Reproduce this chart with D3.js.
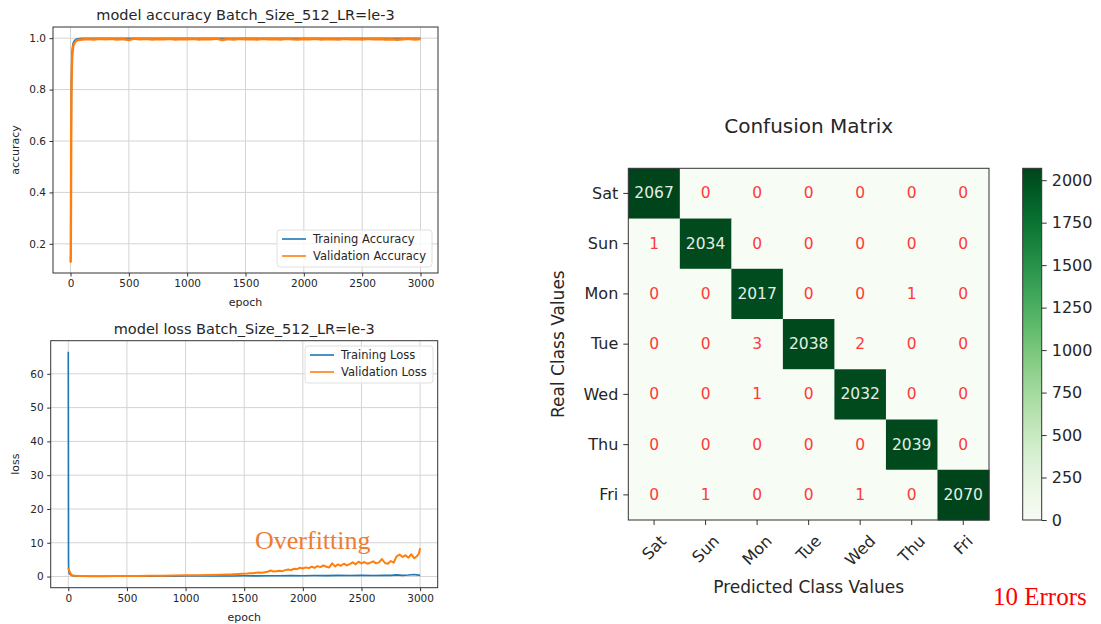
<!DOCTYPE html>
<html lang="en">
  <head>
    <meta charset="UTF-8">
    <title>Training curves and confusion matrix</title>
    <style>
      body { margin: 0; background: #fff; }
      svg text { font-family: "DejaVu Sans", sans-serif; }
    </style>
  </head>
  <body>
    <div id="chart-container"></div>
    <script src="https://d3js.org/d3.v7.min.js"></script>
    <script>
    const accEpochs = [0, 2, 4, 6, 8, 10, 12, 14, 17, 20, 25, 30, 40, 50, 60, 80, 100,
      150, 200, 250, 300, 350, 400, 450, 500, 550, 600, 650, 700, 750, 800, 850, 900, 950, 1000,
      1050, 1100, 1150, 1200, 1250, 1300, 1350, 1400, 1450, 1500, 1550, 1600, 1650, 1700, 1750,
      1800, 1850, 1900, 1950, 2000, 2050, 2100, 2150, 2200, 2250, 2300, 2350, 2400, 2450, 2500,
      2550, 2600, 2650, 2700, 2750, 2800, 2850, 2900, 2950, 3000];
    const trainAcc = [0.15, 0.14, 0.30, 0.60, 0.80, 0.88, 0.92, 0.95, 0.965, 0.975, 0.983, 0.988, 0.993, 0.996, 0.998, 0.999, 1.0,
      1.0, 1.0, 1.0, 1.0, 1.0, 1.0, 1.0, 1.0, 1.0, 1.0, 1.0, 1.0, 1.0, 1.0, 1.0, 1.0, 1.0, 1.0,
      1.0, 1.0, 1.0, 1.0, 1.0, 1.0, 1.0, 1.0, 1.0, 1.0, 1.0, 1.0, 1.0, 1.0, 1.0,
      1.0, 1.0, 1.0, 1.0, 1.0, 1.0, 1.0, 1.0, 1.0, 1.0, 1.0, 1.0, 1.0, 1.0, 1.0,
      1.0, 1.0, 1.0, 1.0, 1.0, 1.0, 1.0, 1.0, 1.0, 1.0];
    const valAcc = [0.14, 0.13, 0.35, 0.62, 0.78, 0.85, 0.88, 0.92, 0.94, 0.955, 0.97, 0.978, 0.985, 0.99, 0.993, 0.994, 0.995,
      0.997, 0.995, 0.998, 0.996, 0.998, 0.995, 0.997, 0.993, 0.998, 0.996, 0.998, 0.995, 0.997, 0.996, 0.998, 0.995, 0.997, 0.996,
      0.998, 0.995, 0.997, 0.996, 0.998, 0.993, 0.997, 0.995, 0.998, 0.996, 0.997, 0.995, 0.998, 0.996, 0.997,
      0.995, 0.998, 0.996, 0.995, 0.997, 0.996, 0.998, 0.995, 0.997, 0.996, 0.995, 0.998, 0.996, 0.997, 0.995,
      0.998, 0.996, 0.997, 0.995, 0.996, 0.994, 0.996, 0.998, 0.995, 0.997];

    // ---- loss history ----
    const trainLossEpochs = [0, 1, 2, 3, 5, 8, 12, 20, 30, 50, 100, 200, 300, 400, 500, 600, 700, 800,
      900, 1000, 1100, 1200, 1300, 1400, 1500, 1600, 1700, 1800, 1900, 2000, 2100, 2200, 2300,
      2400, 2500, 2600, 2700, 2750, 2800, 2850, 2900, 2950, 3000];
    const trainLoss = [66.5, 40, 5, 2.2, 1.5, 1.0, 0.7, 0.5, 0.35, 0.2, 0.12, 0.1, 0.1, 0.1, 0.12, 0.1, 0.12, 0.15,
      0.12, 0.15, 0.18, 0.15, 0.2, 0.18, 0.22, 0.2, 0.25, 0.22, 0.3, 0.25, 0.3, 0.28, 0.35,
      0.3, 0.35, 0.3, 0.4, 0.35, 0.5, 0.35, 0.45, 0.6, 0.35];
    const valLossEpochs = [0, 2, 5, 10, 20, 30, 50, 100, 200, 300, 400, 500, 600, 700, 800, 900, 1000,
      1100, 1200, 1300, 1400, 1425, 1450, 1475, 1500, 1525, 1550, 1575, 1600, 1625, 1650, 1675,
      1700, 1725, 1750, 1775, 1800, 1825, 1850, 1875, 1900, 1925, 1950, 1975, 2000, 2025, 2050,
      2075, 2100, 2125, 2150, 2175, 2200, 2225, 2250, 2275, 2300, 2325, 2350, 2375, 2400, 2425,
      2450, 2475, 2500, 2525, 2550, 2575, 2600, 2625, 2650, 2675, 2700, 2725, 2750, 2775, 2800,
      2825, 2850, 2875, 2900, 2925, 2950, 2975, 2990, 3000];
    const valLoss = [2.3, 2.4, 2.0, 1.6, 0.8, 0.4, 0.2, 0.15, 0.12, 0.12, 0.13, 0.15, 0.18, 0.2, 0.25, 0.3, 0.35,
      0.4, 0.45, 0.55, 0.65, 0.7, 0.75, 0.8, 0.85, 0.9, 1.0, 0.95, 1.1, 1.2, 1.15, 1.3,
      1.4, 1.8, 1.5, 1.6, 1.7, 1.6, 1.9, 2.1, 1.9, 2.3, 2.2, 2.6, 2.4, 2.7, 2.5,
      2.9, 2.6, 3.1, 2.8, 3.3, 2.9, 2.7, 3.9, 3.0, 3.6, 3.2, 3.8, 3.3, 3.7, 4.2,
      3.6, 4.4, 3.9, 4.3, 3.8, 4.1, 4.5, 3.9, 4.2, 5.2, 4.0, 3.8, 4.6, 4.1, 6.0,
      6.5, 5.8, 6.3, 5.6, 6.6, 5.4, 6.1, 6.8, 8.4];

    // ---- confusion matrix ----
    const classes = ["Sat", "Sun", "Mon", "Tue", "Wed", "Thu", "Fri"];
    const cmRows = [
      [2067, 0, 0, 0, 0, 0, 0],
      [1, 2034, 0, 0, 0, 0, 0],
      [0, 0, 2017, 0, 0, 1, 0],
      [0, 0, 3, 2038, 2, 0, 0],
      [0, 0, 1, 0, 2032, 0, 0],
      [0, 0, 0, 0, 0, 2039, 0],
      [0, 1, 0, 0, 1, 0, 2070]
    ];
    const colorbarTicks = [0, 250, 500, 750, 1000, 1250, 1500, 1750, 2000];
    const epochTicks = [0, 500, 1000, 1500, 2000, 2500, 3000];
    const accTicks = [0.2, 0.4, 0.6, 0.8, 1.0];
    const lossTicks = [0, 10, 20, 30, 40, 50, 60];

    const BLUE = "#1f77b4", ORANGE = "#ff7f0e", INK = "#262626";

    const svg = d3.select("#chart-container")
      .append("svg")
      .attr("width", 1101)
      .attr("height", 624);

    function zip(xs, ys) { return xs.map((x, i) => ({ x: x, y: ys[i] })); }

    // draws one matplotlib-looking line chart
    function lineChart(o) {
      const x = d3.scaleLinear().domain([-150, 3150]).range([o.left, o.right]);
      const y = d3.scaleLinear().domain(o.yDomain).range([o.bottom, o.top]);
      const g = svg.append("g");

      // grid
      g.append("g").selectAll("line").data(epochTicks).join("line")
        .attr("x1", d => x(d)).attr("x2", d => x(d))
        .attr("y1", o.top).attr("y2", o.bottom)
        .attr("stroke", "#d4d4d4").attr("stroke-width", 1);
      g.append("g").selectAll("line").data(o.yTicks).join("line")
        .attr("x1", o.left).attr("x2", o.right)
        .attr("y1", d => y(d)).attr("y2", d => y(d))
        .attr("stroke", "#d4d4d4").attr("stroke-width", 1);

      const line = d3.line().x(d => x(d.x)).y(d => y(d.y));
      o.series.forEach(s => {
        g.append("path")
          .datum(s.data)
          .attr("fill", "none")
          .attr("stroke", s.color)
          .attr("stroke-width", s.width || 1.6)
          .attr("stroke-linejoin", "round")
          .attr("d", line);
      });

      // frame
      g.append("rect")
        .attr("x", o.left).attr("y", o.top)
        .attr("width", o.right - o.left).attr("height", o.bottom - o.top)
        .attr("fill", "none").attr("stroke", "#333").attr("stroke-width", 1);

      const xAxis = g.append("g")
        .attr("transform", "translate(0," + o.bottom + ")")
        .call(d3.axisBottom(x).tickValues(epochTicks).tickFormat(d3.format("d")).tickSize(3.5).tickPadding(3.5));
      const yAxis = g.append("g")
        .attr("transform", "translate(" + o.left + ",0)")
        .call(d3.axisLeft(y).tickValues(o.yTicks).tickFormat(o.yFormat).tickSize(3.5).tickPadding(3.5));
      [xAxis, yAxis].forEach(a => {
        a.select(".domain").remove();
        a.selectAll("line").attr("stroke", "#333");
        a.selectAll("text").style("font-size", "10.5px").style("font-family", "DejaVu Sans").style("fill", INK);
      });

      // title + labels
      g.append("text")
        .attr("x", (o.left + o.right) / 2).attr("y", o.top - 7)
        .attr("text-anchor", "middle")
        .style("font-size", "14.5px").style("fill", INK)
        .text(o.title);
      g.append("text")
        .attr("x", (o.left + o.right) / 2).attr("y", o.bottom + 33)
        .attr("text-anchor", "middle")
        .style("font-size", "11px").style("fill", INK)
        .text("epoch");
      g.append("text")
        .attr("transform", "translate(" + 19 + "," + (o.top + o.bottom) / 2 + ") rotate(-90)")
        .attr("text-anchor", "middle")
        .style("font-size", "11px").style("fill", INK)
        .text(o.yLabel);

      // legend
      const lg = g.append("g").attr("transform", "translate(" + o.legend.x + "," + o.legend.y + ")");
      lg.append("rect")
        .attr("width", o.legend.w).attr("height", 37)
        .attr("rx", 3)
        .attr("fill", "white").attr("fill-opacity", 0.8)
        .attr("stroke", "#e0e0e0");
      o.series.forEach((s, i) => {
        lg.append("line")
          .attr("x1", 5).attr("x2", 29)
          .attr("y1", 9 + i * 17).attr("y2", 9 + i * 17)
          .attr("stroke", s.color).attr("stroke-width", 1.6);
        lg.append("text")
          .attr("x", 36).attr("y", 13 + i * 17)
          .style("font-size", "11.5px").style("fill", INK)
          .text(s.name);
      });
      return { x: x, y: y };
    }

    lineChart({
      left: 53, right: 438, top: 27, bottom: 273,
      yDomain: [0.0865, 1.0435], yTicks: accTicks, yFormat: d3.format(".1f"),
      title: "model accuracy Batch_Size_512_LR=le-3", yLabel: "accuracy",
      legend: { x: 277, y: 230, w: 155 },
      series: [
        { name: "Training Accuracy", color: BLUE, data: zip(accEpochs, trainAcc) },
        { name: "Validation Accuracy", color: ORANGE, width: 2.4, data: zip(accEpochs, valAcc) }
      ]
    });

    lineChart({
      left: 50.7, right: 437.7, top: 340.7, bottom: 587.7,
      yDomain: [-3.3, 69.8], yTicks: lossTicks, yFormat: d3.format("d"),
      title: "model loss Batch_Size_512_LR=le-3", yLabel: "loss",
      legend: { x: 305, y: 346, w: 128 },
      series: [
        { name: "Training Loss", color: BLUE, data: zip(trainLossEpochs, trainLoss) },
        { name: "Validation Loss", color: ORANGE, width: 2, data: zip(valLossEpochs, valLoss) }
      ]
    });

    svg.append("text")
      .attr("x", 255).attr("y", 549)
      .style("font-family", "Liberation Serif")
      .style("font-size", "26px")
      .style("fill", "#ed7d31")
      .text("Overfitting");

    // ---- confusion matrix heatmap ----
    const cm = { left: 628.3, right: 989, top: 168.3, bottom: 520 };
    const cx = d3.scaleBand().domain(classes).range([cm.left, cm.right]);
    const cy = d3.scaleBand().domain(classes).range([cm.top, cm.bottom]);
    const vmax = d3.max(cmRows.flat());
    const color = d3.scaleSequential(d3.interpolateGreens).domain([0, vmax]);

    const cells = [];
    cmRows.forEach((row, i) => row.forEach((v, j) => cells.push({ r: classes[i], c: classes[j], v: v })));

    const cmG = svg.append("g");
    cmG.selectAll("rect.cell").data(cells).join("rect")
      .attr("class", "cell")
      .attr("x", d => cx(d.c)).attr("y", d => cy(d.r))
      .attr("width", cx.bandwidth() + 0.5).attr("height", cy.bandwidth() + 0.5)
      .attr("fill", d => color(d.v));
    cmG.selectAll("text.val").data(cells).join("text")
      .attr("class", "val")
      .attr("x", d => cx(d.c) + cx.bandwidth() / 2)
      .attr("y", d => cy(d.r) + cy.bandwidth() / 2)
      .attr("text-anchor", "middle")
      .attr("dominant-baseline", "central")
      .style("font-size", "15.5px")
      .style("fill", d => d.v > vmax / 2 ? "#e4eee4" : "#ff3a3a")
      .text(d => d.v);
    cmG.append("rect")
      .attr("x", cm.left).attr("y", cm.top)
      .attr("width", cm.right - cm.left).attr("height", cm.bottom - cm.top)
      .attr("fill", "none").attr("stroke", "#333");

    // y ticks
    const yAx = cmG.append("g")
      .attr("transform", "translate(" + cm.left + ",0)")
      .call(d3.axisLeft(cy).tickSize(5).tickPadding(5));
    yAx.select(".domain").remove();
    yAx.selectAll("line").attr("stroke", "#333");
    yAx.selectAll("text").style("font-size", "16px").style("font-family", "DejaVu Sans").style("fill", INK);

    // x ticks, rotated 45 deg, centred under the tick like matplotlib
    const xAx = cmG.append("g")
      .attr("transform", "translate(0," + cm.bottom + ")")
      .call(d3.axisBottom(cx).tickSize(5).tickPadding(5));
    xAx.select(".domain").remove();
    xAx.selectAll("line").attr("stroke", "#333");
    xAx.selectAll("text")
      .style("font-size", "16px").style("font-family", "DejaVu Sans").style("fill", INK)
      .attr("text-anchor", "middle")
      .attr("dominant-baseline", "central")
      .attr("dy", null)
      .attr("y", null)
      .attr("transform", function() {
        const w = this.getComputedTextLength();
        const half = (w + 12) * Math.SQRT1_2 / 2;
        return "translate(0," + (14 + half) + ") rotate(-45)";
      });

    svg.append("text")
      .attr("x", (cm.left + cm.right) / 2).attr("y", 133)
      .attr("text-anchor", "middle")
      .style("font-size", "20px").style("fill", INK)
      .text("Confusion Matrix");
    svg.append("text")
      .attr("x", (cm.left + cm.right) / 2).attr("y", 593)
      .attr("text-anchor", "middle")
      .style("font-size", "17px").style("fill", INK)
      .text("Predicted Class Values");
    svg.append("text")
      .attr("transform", "translate(564," + (cm.top + cm.bottom) / 2 + ") rotate(-90)")
      .attr("text-anchor", "middle")
      .style("font-size", "17px").style("fill", INK)
      .text("Real Class Values");

    // ---- colorbar ----
    const cb = { left: 1022.7, right: 1041.7 };
    const cbY = d3.scaleLinear().domain([0, vmax]).range([cm.bottom, cm.top]);
    const grad = svg.append("defs").append("linearGradient")
      .attr("id", "greens").attr("x1", 0).attr("y1", 1).attr("x2", 0).attr("y2", 0);
    d3.range(0, 1.0001, 0.05).forEach(t => {
      grad.append("stop").attr("offset", t).attr("stop-color", d3.interpolateGreens(t));
    });
    svg.append("rect")
      .attr("x", cb.left).attr("y", cm.top)
      .attr("width", cb.right - cb.left).attr("height", cm.bottom - cm.top)
      .attr("fill", "url(#greens)").attr("stroke", "#333");
    const cbAx = svg.append("g")
      .attr("transform", "translate(" + cb.right + ",0)")
      .call(d3.axisRight(cbY).tickValues(colorbarTicks).tickFormat(d3.format("d")).tickSize(5).tickPadding(5));
    cbAx.select(".domain").remove();
    cbAx.selectAll("line").attr("stroke", "#333");
    cbAx.selectAll("text").style("font-size", "16px").style("font-family", "DejaVu Sans").style("fill", INK);

    svg.append("text")
      .attr("x", 993).attr("y", 605)
      .style("font-family", "Liberation Serif")
      .style("font-size", "25px")
      .style("fill", "red")
      .text("10 Errors");
    </script>
  </body>
</html>
